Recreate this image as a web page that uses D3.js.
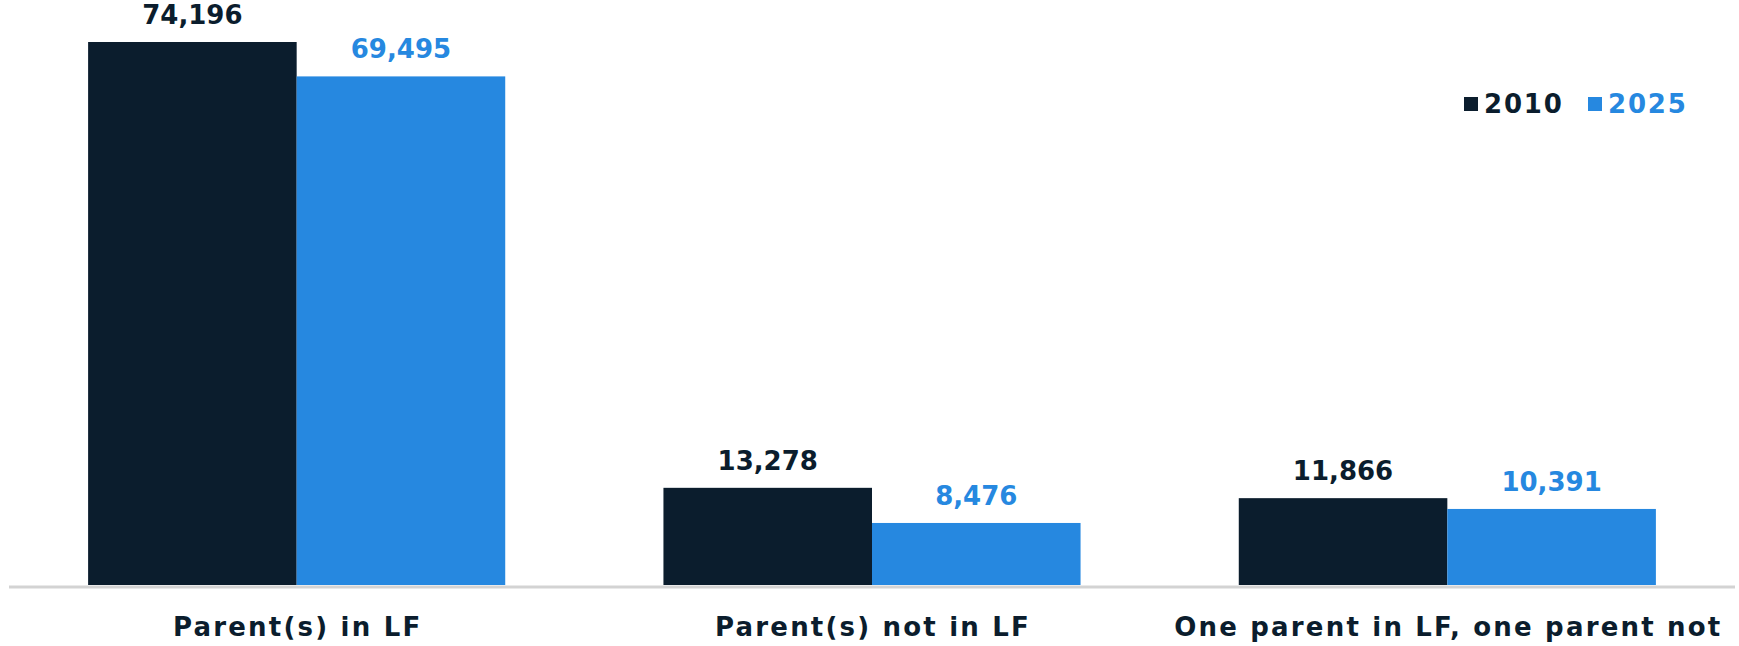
<!DOCTYPE html>
<html>
<head>
<meta charset="utf-8">
<script src="https://cdn.jsdelivr.net/npm/d3@7"></script>
<style>
  html, body { margin: 0; padding: 0; background: #fff; }
  svg { display: block; font-family: "DejaVu Sans", sans-serif; font-weight: 700; }
</style>
</head>
<body>
<div id="chart"></div>
<script>
// data
var categories = ['Parent(s) in LF', 'Parent(s) not in LF', 'One parent in LF, one parent not'];
var years = ['2010', '2025'];
var values2010 = [74196, 13278, 11866];
var values2025 = [69495, 8476, 10391];

var colors = { '2010': '#0b1d2d', '2025': '#2688e0' };

var width = 1739;
var height = 646;
var baseY = 585;

var svg = d3.select('#chart')
  .append('svg')
  .attr('width', width)
  .attr('height', height);

// group scale across the three categories
var x0 = d3.scaleBand()
  .domain(categories)
  .range([9, 1735])
  .paddingInner(0.275)
  .paddingOuter(0.1375);

var x1 = d3.scaleBand()
  .domain(years)
  .range([0, x0.bandwidth()]);

var y = d3.scaleLinear()
  .domain([0, 74196])
  .range([baseY, 42]);

var rows = categories.map(function (c, i) {
  return { cat: c, vals: [
    { year: '2010', value: values2010[i] },
    { year: '2025', value: values2025[i] }
  ]};
});

var groups = svg.selectAll('.group')
  .data(rows)
  .enter().append('g')
  .attr('class', 'group')
  .attr('transform', function (d) { return 'translate(' + x0(d.cat) + ',0)'; });

groups.selectAll('rect')
  .data(function (d) { return d.vals; })
  .enter().append('rect')
  .attr('x', function (d) { return x1(d.year); })
  .attr('y', function (d) { return y(d.value); })
  .attr('width', x1.bandwidth())
  .attr('height', function (d) { return baseY - y(d.value); })
  .attr('fill', function (d) { return colors[d.year]; });

// value labels above the bars
groups.selectAll('.val')
  .data(function (d) { return d.vals; })
  .enter().append('text')
  .attr('class', 'val')
  .attr('x', function (d) { return x1(d.year) + x1.bandwidth() / 2; })
  .attr('y', function (d) { return y(d.value) - 18; })
  .attr('text-anchor', 'middle')
  .attr('font-size', 26)
  .attr('fill', function (d) { return colors[d.year]; })
  .text(function (d) { return d3.format(',')(d.value); });

// baseline
svg.append('line')
  .attr('x1', 9).attr('x2', 1735)
  .attr('y1', baseY + 2).attr('y2', baseY + 2)
  .attr('stroke', '#d3d3d3')
  .attr('stroke-width', 3);

// category labels
var xAxis = d3.axisBottom(x0).tickSize(0).tickPadding(0);
var axisG = svg.append('g')
  .attr('transform', 'translate(1,' + (baseY + 33) + ')')
  .call(xAxis);
axisG.select('.domain').remove();
axisG.selectAll('text')
  .attr('font-size', 26)
  .attr('font-family', '"DejaVu Sans", sans-serif')
  .attr('font-weight', 700)
  .attr('letter-spacing', 2.2)
  .attr('fill', '#0b1d2d');

// legend
var legend = svg.append('g').attr('transform', 'translate(1464,0)');
var legX = [0, 124];
years.forEach(function (yr, i) {
  legend.append('rect')
    .attr('x', legX[i]).attr('y', 97)
    .attr('width', 14).attr('height', 14)
    .attr('fill', colors[yr]);
  legend.append('text')
    .attr('x', legX[i] + 20).attr('y', 113)
    .attr('font-size', 26)
    .attr('letter-spacing', 1.8)
    .attr('fill', colors[yr])
    .text(yr);
});
</script>
</body>
</html>
